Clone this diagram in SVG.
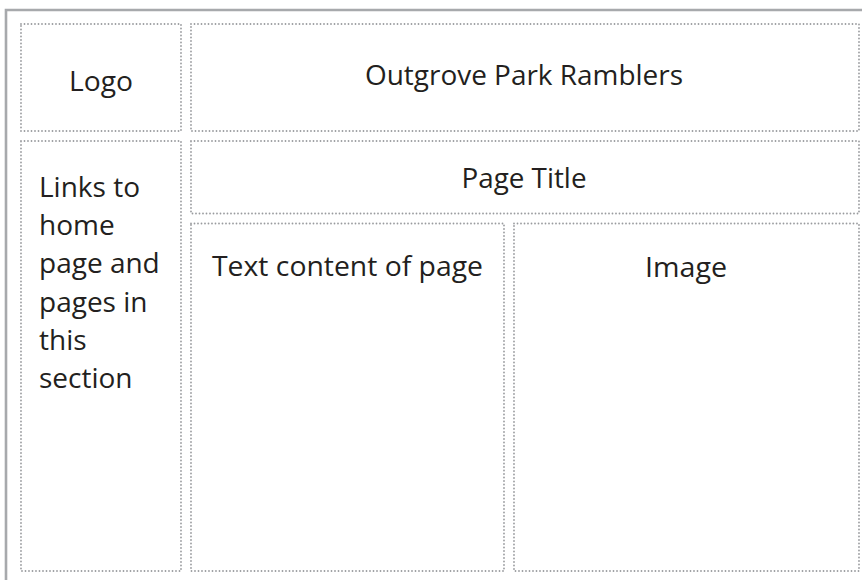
<svg xmlns="http://www.w3.org/2000/svg" width="862" height="580" viewBox="0 0 862 580">
<style>
.box{fill:none;stroke:#999b9e;stroke-width:1.8;stroke-linecap:round;stroke-dasharray:0 3.5}
.t{font-family:"Open Sans","Noto Sans",sans-serif;font-size:28px;fill:#231f20}
.c{text-anchor:middle}
</style>
<rect width="862" height="580" fill="#fff"/>
<g id="frame">
<path d="M6 580V10H862" fill="none" stroke="#a7a9ac" stroke-width="2.6"/>
</g>
<g id="logo">
<rect class="box" x="21" y="24" width="160" height="107"/>
<text class="t c" x="101" y="91" textLength="64" lengthAdjust="spacingAndGlyphs">Logo</text>
</g>
<g id="header">
<rect class="box" x="191" y="24" width="668" height="107"/>
<text class="t c" x="524" y="85" textLength="318" lengthAdjust="spacingAndGlyphs">Outgrove Park Ramblers</text>
</g>
<g id="nav">
<rect class="box" x="21" y="141" width="160" height="430"/>
<text class="t" x="39" y="197">Links to</text>
<text class="t" x="39" y="235">home</text>
<text class="t" x="39" y="273">page and</text>
<text class="t" x="39" y="312">pages in</text>
<text class="t" x="39" y="350">this</text>
<text class="t" x="39" y="388">section</text>
</g>
<g id="page-title">
<rect class="box" x="191" y="141" width="668" height="72.5"/>
<text class="t c" x="524" y="188" textLength="125" lengthAdjust="spacingAndGlyphs">Page Title</text>
</g>
<g id="text-content">
<rect class="box" x="191" y="223.5" width="313" height="347.5"/>
<text class="t c" x="347.5" y="276" textLength="271" lengthAdjust="spacingAndGlyphs">Text content of page</text>
</g>
<g id="image">
<rect class="box" x="514" y="223.5" width="345" height="347.5"/>
<text class="t c" x="686" y="276.5" textLength="82" lengthAdjust="spacingAndGlyphs">Image</text>
</g>
<g id="connectors"></g>
</svg>
